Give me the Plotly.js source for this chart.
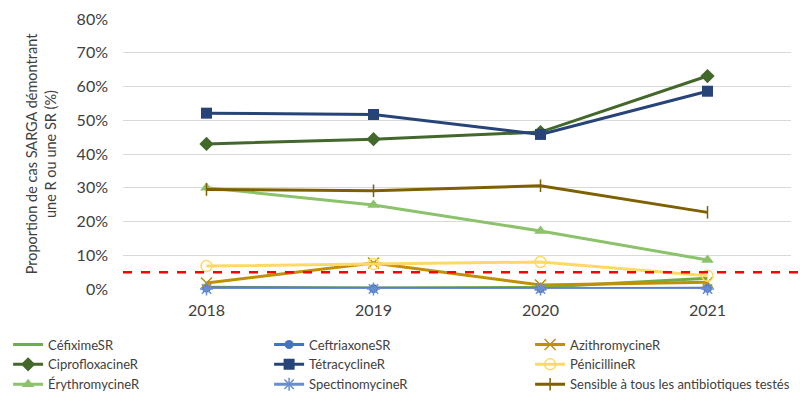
<!DOCTYPE html>
<html><head><meta charset="utf-8">
<script src="https://cdn.plot.ly/plotly-3.0.1.min.js"></script>
<style>html,body{margin:0;padding:0;background:#fff}#c{width:800px;height:397px}</style>
</head><body><div id="c"></div>
<script>
const years = ['2018','2019','2020','2021'];
const cefiximeSR = [0.5, 0.3, 0.5, 3.2];
const ceftriaxoneSR = [0.3, 0.1, 0.1, 0.2];
const azithromycineR = [1.8, 7.7, 1.2, 2.0];
const ciprofloxacineR = [43.0, 44.4, 46.5, 63.1];
const tetracyclineR = [52.1, 51.7, 45.8, 58.6];
const penicillineR = [6.8, 7.4, 8.0, 3.9];
const erythromycineR = [30.0, 24.9, 17.2, 8.6];
const spectinomycineR = [0.0, 0.0, 0.0, 0.0];
const sensible = [29.5, 29.1, 30.6, 22.7];
const seuil = 5;
const yTicks = [0,10,20,30,40,50,60,70,80];
const yTickLabels = yTicks.map(v => v + '%');

const names = ['CéfiximeSR','CeftriaxoneSR','AzithromycineR','CiprofloxacineR','TétracyclineR','PénicillineR','ÉrythromycineR','SpectinomycineR','Sensible à tous les antibiotiques testés'];
const series = [cefiximeSR, ceftriaxoneSR, azithromycineR, ciprofloxacineR, tetracyclineR, penicillineR, erythromycineR, spectinomycineR, sensible];
const styles = [
  {color:'#70AD47', mode:'lines', marker:{}},
  {color:'#4472C4', marker:{symbol:'circle', size:9}},
  {color:'#BF9000', marker:{symbol:'x-thin-open', size:11, line:{width:1.5, color:'#BF9000'}}},
  {color:'#43682B', marker:{symbol:'diamond', size:11}},
  {color:'#264478', marker:{symbol:'square', size:11}},
  {color:'#FFD966', marker:{symbol:'circle-open', size:11, line:{width:1.5, color:'#FFD966'}}},
  {color:'#8CC26C', marker:{symbol:'triangle-up', size:11}},
  {color:'#698ED0', marker:{symbol:'asterisk-open', size:11, line:{width:1.5, color:'#698ED0'}}},
  {color:'#7F6000', marker:{symbol:'line-ns-open', size:9, line:{width:1.5, color:'#7F6000'}}}
];
const traces = series.map((s,i) => {
  const st = styles[i];
  return {
    x: years, y: s, name: names[i], type:'scatter',
    mode: st.mode || 'lines+markers',
    line: {color: st.color, width: 3},
    marker: Object.assign({color: st.color}, st.marker),
    cliponaxis: false
  };
});

const layout = {
  width: 800, height: 397,
  margin: {l:123, r:9, t:19, b:108, autoexpand:false},
  paper_bgcolor:'#fff', plot_bgcolor:'#fff',
  font: {family:'Lato, "Open Sans", sans-serif', size:14, color:'#404040'},
  showlegend: true,
  xaxis: {type:'category', range:[-0.5,3.5], automargin:false, showgrid:false, zeroline:false, showline:false, ticks:'', ticklabelstandoff:10, tickfont:{size:16, color:'#404040'}},
  yaxis: {range:[0,80], automargin:false, tickvals:yTicks, ticktext:yTickLabels, showgrid:true, gridcolor:'#D9D9D9', gridwidth:1, zeroline:false, showline:false, ticks:'', ticklen:0, ticklabelstandoff:14, tickfont:{size:16, color:'#404040'},
    title:{text:'Proportion de cas SARGA démontrant<br>une R ou une SR (%)', font:{size:14.5, color:'#404040'}, standoff:16}},
  legend: {orientation:'h', x:-0.172, xanchor:'left', y:-0.15, yanchor:'top', entrywidth:216, entrywidthmode:'pixels', font:{size:13, color:'#404040'}, tracegroupgap:0, itemwidth:30, bgcolor:'rgba(0,0,0,0)'},
  shapes: [{type:'line', xref:'paper', x0:0, x1:1.02, yref:'y', y0:seuil, y1:seuil, line:{color:'#FF0000', width:2.5, dash:'dash'}}]
};
Plotly.newPlot('c', traces, layout, {displayModeBar:false, staticPlot:true});
</script></body></html>
